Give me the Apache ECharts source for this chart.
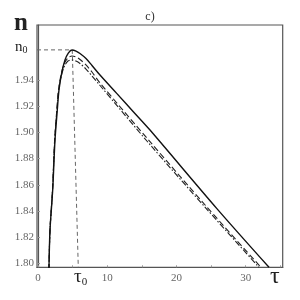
<!DOCTYPE html>
<html>
<head>
<meta charset="utf-8">
<script src="https://cdn.jsdelivr.net/npm/echarts@6/dist/echarts.min.js"></script>
<style>html,body{margin:0;padding:0;background:#fff}#c{width:300px;height:300px}</style>
</head>
<body>
<div id="c"></div>
<script>
// data (tau, n)
const solidTau = [1.58, 1.733, 2.123, 2.456, 2.788, 3.033, 3.423, 3.90, 4.377, 4.911, 5.489, 6.067, 6.933, 7.80, 8.956, 11.37, 13.77, 16.18, 25.81, 33.37];
const solidN   = [1.795, 1.8254, 1.856, 1.8942, 1.9171, 1.9324, 1.9453, 1.9553, 1.9606, 1.9629, 1.9621, 1.9602, 1.9564, 1.9511, 1.9438, 1.9298, 1.9158, 1.9018, 1.842, 1.797];
const dashTau = [1.58, 1.733, 2.094, 2.40, 2.716, 2.96, 3.32, 3.76, 4.33, 4.91, 5.49, 6.07, 6.93, 7.80, 8.96, 16.18, 24.37, 32.21];
const dashN   = [1.795, 1.8254, 1.856, 1.8942, 1.9171, 1.9324, 1.9438, 1.9522, 1.9568, 1.9583, 1.9576, 1.9557, 1.9515, 1.9461, 1.9377, 1.8929, 1.8432, 1.797];
const dotTau = [1.58, 1.733, 2.10, 2.42, 2.74, 2.99, 3.36, 3.82, 4.33, 4.91, 5.49, 6.07, 6.93, 7.80, 8.96, 16.18, 24.37, 31.92];
const dotN   = [1.795, 1.8254, 1.856, 1.8942, 1.9171, 1.9324, 1.9430, 1.9505, 1.9545, 1.9553, 1.9545, 1.9526, 1.9484, 1.9431, 1.9358, 1.8907, 1.8415, 1.797];
const n0 = 1.963;
const tau0Top = 4.95, tau0Bottom = 5.82;
const xTicks = [0, 10, 20, 30];
const xMinorTicks = [0, 5, 10, 15, 20, 25, 30, 35];
const yTicks = [1.80, 1.82, 1.84, 1.86, 1.88, 1.90, 1.92, 1.94];

const zip = (a, b) => a.map((v, i) => [v, b[i]]);
const XMIN = -0.144, XMAX = 35.35, YMIN = 1.797, YMAX = 1.982;
const serif = 'Liberation Serif';

const chart = echarts.init(document.getElementById('c'), null, {renderer: 'canvas'});
chart.setOption({
  animation: false,
  backgroundColor: '#fff',
  title: {text: 'c)', left: 'center', top: 6, textStyle: {fontFamily: serif, fontSize: 12, fontWeight: 'normal', color: '#333'}},
  grid: {left: 37, top: 25, right: 17.3, bottom: 32.7, show: true, borderColor: '#555', borderWidth: 1.2, backgroundColor: 'transparent'},
  xAxis: {
    type: 'value', min: XMIN, max: XMAX,
    axisLine: {show: true, lineStyle: {color: '#555', width: 1.2}},
    axisTick: {show: true, inside: true, length: 2, customValues: xMinorTicks, lineStyle: {color: '#999'}},
    axisLabel: {customValues: xTicks, margin: 5, fontFamily: serif, fontSize: 11, color: '#666', showMinLabel: true, showMaxLabel: true, hideOverlap: false},
    splitLine: {show: false}
  },
  yAxis: {
    type: 'value', min: YMIN, max: YMAX,
    axisLine: {show: true, lineStyle: {color: '#555', width: 1.2}},
    axisTick: {show: true, inside: true, length: 2, customValues: yTicks, lineStyle: {color: '#999'}},
    axisLabel: {customValues: yTicks, margin: 3, fontFamily: serif, fontSize: 11, color: '#666', formatter: v => v.toFixed(2)},
    splitLine: {show: false}
  },
  graphic: [
    {type: 'text', left: 14, top: 11, style: {text: 'n', font: 'bold 25px "Liberation Serif"', fill: '#222'}},
    {type: 'text', left: 15, top: 40, style: {text: '{a|n}{b|0}', rich: {a: {fontFamily: serif, fontSize: 15, fill: '#222'}, b: {fontFamily: serif, fontSize: 10, fill: '#222', padding: [6, 0, 0, 0]}}}},
    {type: 'text', left: 74, top: 268, style: {text: '{a|τ}{b|0}', rich: {a: {fontFamily: serif, fontSize: 19, fill: '#222'}, b: {fontFamily: serif, fontSize: 11, fill: '#222', padding: [9, 0, 0, 0]}}}},
    {type: 'text', left: 270, top: 265, style: {text: 'τ', font: '24px "Liberation Serif"', fill: '#222'}}
  ],
  series: [
    {type: 'line', data: [[XMIN, n0], [solidTau[9], n0]], symbol: 'none', lineStyle: {color: '#666', width: 1, type: [4, 3]}, z: 1},
    {type: 'line', data: [[tau0Top, n0], [tau0Bottom, YMIN]], symbol: 'none', lineStyle: {color: '#666', width: 1, type: [4, 3]}, z: 1},
    {type: 'line', data: zip(solidTau, solidN), symbol: 'none', smooth: 0.3, lineStyle: {color: '#111', width: 1.4}, z: 3},
    {type: 'line', data: zip(dashTau, dashN), symbol: 'none', smooth: 0.3, lineStyle: {color: '#222', width: 1.1, type: [6, 3]}, z: 2},
    {type: 'line', data: zip(dotTau, dotN), symbol: 'none', smooth: 0.3, lineStyle: {color: '#222', width: 1.1, type: [6, 2, 1.5, 2]}, z: 2}
  ]
});
</script>
</body>
</html>
